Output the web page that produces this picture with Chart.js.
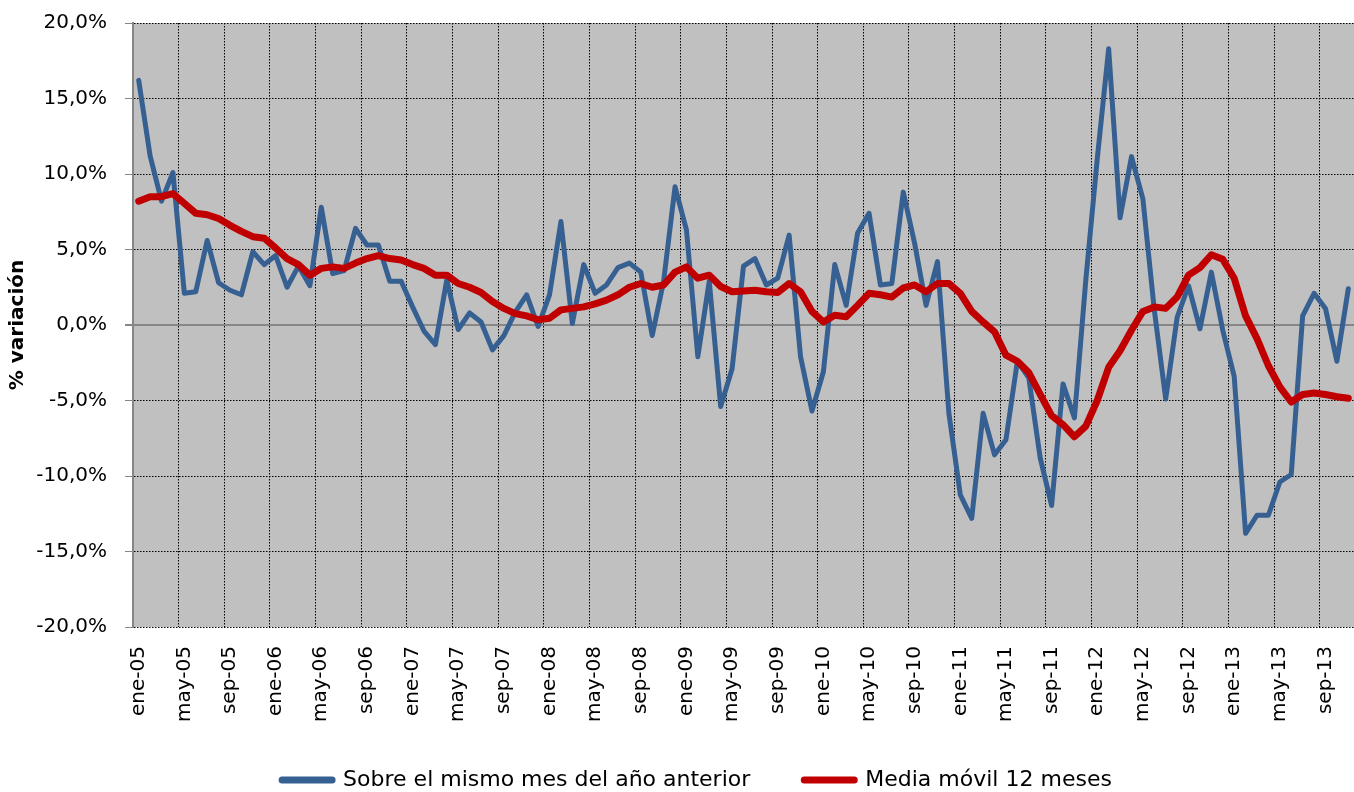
<!DOCTYPE html>
<html>
<head>
<meta charset="utf-8">
<script src="https://cdn.jsdelivr.net/npm/chart.js@4/dist/chart.umd.min.js"></script>
<style>
  html, body { margin: 0; padding: 0; background: #fff; }
  #wrap { width: 1354px; height: 792px; }
</style>
</head>
<body>
<div id="wrap"><canvas id="variacionChart"></canvas></div>
<script>
// months ene-05 .. nov-13
const monthNames = ['ene', 'feb', 'mar', 'abr', 'may', 'jun', 'jul', 'ago', 'sep', 'oct', 'nov', 'dic'];
const firstYear = 2005;
const monthCount = 107;

// % variación sobre el mismo mes del año anterior
const mismoMes = [
  16.2, 11.2, 8.2, 10.1, 2.1, 2.2, 5.6, 2.8, 2.3, 2.0, 4.85, 4.0,
  4.6, 2.5, 3.9, 2.6, 7.8, 3.4, 3.6, 6.4, 5.3, 5.3, 2.9, 2.9,
  1.2, -0.4, -1.3, 3.0, -0.3, 0.8, 0.2, -1.65, -0.7, 0.85, 2.0, -0.1,
  2.0, 6.85, 0.1, 4.0, 2.1, 2.65, 3.8, 4.1, 3.5, -0.7, 2.9, 9.15,
  6.3, -2.1, 2.9, -5.4, -2.9, 3.9, 4.4, 2.65, 3.1, 5.95, -2.1, -5.7,
  -3.1, 4.0, 1.3, 6.1, 7.4, 2.65, 2.75, 8.8, 5.4, 1.3, 4.2, -5.85,
  -11.25, -12.8, -5.85, -8.6, -7.6, -2.4, -3.5, -8.8, -11.95, -3.9, -6.15, 3.0,
  11.0, 18.3, 7.1, 11.15, 8.35, 1.0, -4.9, 0.5, 2.6, -0.25, 3.5, -0.35,
  -3.4, -13.8, -12.6, -12.6, -10.4, -9.9, 0.6, 2.1, 1.1, -2.4, 2.4
];

// media móvil 12 meses
const mediaMovil = [
  8.2, 8.5, 8.5, 8.7, 8.05, 7.4, 7.3, 7.05, 6.6, 6.2, 5.85, 5.75,
  5.1, 4.4, 4.0, 3.3, 3.75, 3.85, 3.75, 4.1, 4.4, 4.6, 4.4, 4.3,
  4.0, 3.75, 3.3, 3.3, 2.75, 2.5, 2.15, 1.55, 1.1, 0.75, 0.6, 0.35,
  0.45, 1.0, 1.1, 1.2, 1.4, 1.65, 2.0, 2.5, 2.75, 2.5, 2.65, 3.5,
  3.85, 3.1, 3.3, 2.55, 2.2, 2.25, 2.3, 2.2, 2.15, 2.75, 2.2, 0.9,
  0.2, 0.65, 0.55, 1.3, 2.1, 2.0, 1.85, 2.45, 2.65, 2.2, 2.75, 2.75,
  2.1, 0.9, 0.2, -0.45, -2.0, -2.4, -3.15, -4.6, -6.0, -6.6, -7.4, -6.7,
  -5.0, -2.8, -1.7, -0.35, 0.9, 1.2, 1.1, 1.85, 3.3, 3.8, 4.65, 4.35,
  3.1, 0.6, -0.9, -2.7, -4.1, -5.1, -4.6, -4.5, -4.6, -4.75, -4.85
];

const seriesNames = ['Sobre el mismo mes del año anterior', 'Media móvil 12 meses'];

const labels = [];
for (let i = 0; i < monthCount; i++) {
  const yy = String((firstYear + Math.floor(i / 12)) % 100).padStart(2, '0');
  labels.push(monthNames[i % 12] + '-' + yy);
}

// gray plot area like the excel original
const plotBackground = {
  id: 'plotBackground',
  beforeDraw(chart) {
    const a = chart.chartArea;
    const ctx = chart.ctx;
    ctx.save();
    ctx.fillStyle = '#c0c0c0';
    ctx.fillRect(a.left, a.top, a.right - a.left, a.bottom - a.top);
    ctx.restore();
  }
};

// legend sits a bit right of centre and close to the bottom in the original
const legendShift = {
  id: 'legendShift',
  afterLayout(chart) {
    chart.legend.left += 20;
    chart.legend.right += 20;
    chart.legend.top -= 22;
    chart.legend.bottom -= 22;
  }
};

Chart.defaults.font.family = "'DejaVu Sans', sans-serif";
Chart.defaults.color = '#000';

const ctx = document.getElementById('variacionChart');

new Chart(ctx, {
  type: 'line',
  data: {
    labels: labels,
    datasets: [{
      label: seriesNames[0],
      data: mismoMes,
      borderColor: '#376092',
      backgroundColor: '#376092',
      borderWidth: 5,
      borderJoinStyle: 'round',
      borderCapStyle: 'round',
      pointRadius: 0,
      tension: 0,
      order: 1
    }, {
      label: seriesNames[1],
      data: mediaMovil,
      borderColor: '#c00000',
      backgroundColor: '#c00000',
      borderWidth: 7,
      borderJoinStyle: 'round',
      borderCapStyle: 'round',
      pointRadius: 0,
      tension: 0,
      order: 0
    }]
  },
  options: {
    responsive: true,
    maintainAspectRatio: false,
    animation: false,
    layout: {
      padding: { top: 23, right: 0, left: 0, bottom: -31 }
    },
    scales: {
      x: {
        offset: true,
        grid: {
          offset: true,
          drawTicks: false,
          color: function(c) {
            return (c.index > 0 && c.index % 4 === 0) ? '#000' : 'rgba(0,0,0,0)';
          },
          lineWidth: 1
        },
        border: { display: false, dash: [1.5, 1.5] },
        ticks: {
          autoSkip: false,
          minRotation: 90,
          maxRotation: 90,
          padding: 19,
          font: { size: 20 },
          callback: function(value, index) {
            return index % 4 === 0 ? labels[index] : '';
          }
        },
        afterFit: function(scale) {
          scale.height = 110;
          scale.paddingLeft = 0;
          scale.paddingRight = 0;
        }
      },
      y: {
        min: -20,
        max: 20,
        ticks: {
          stepSize: 5,
          padding: 18,
          font: { size: 20 },
          callback: function(value) {
            return value.toFixed(1).replace('.', ',') + '%';
          }
        },
        grid: {
          color: function(c) {
            return c.tick && c.tick.value === 0 ? '#868686' : '#000';
          },
          lineWidth: function(c) {
            return c.tick && c.tick.value === 0 ? 2 : 1;
          },
          tickColor: '#868686',
          tickLength: 8,
          tickBorderDash: []
        },
        border: {
          display: true,
          color: '#868686',
          width: 2,
          dash: function(c) {
            return c.tick && c.tick.value === 0 ? [] : [1.5, 1.5];
          }
        },
        title: {
          display: true,
          text: '% variación',
          font: { size: 20, weight: 'bold' },
          padding: { top: 6, bottom: 0 }
        },
        afterFit: function(scale) {
          scale.width = 133;
          scale.paddingTop = 0;
          scale.paddingBottom = 0;
        }
      }
    },
    plugins: {
      legend: {
        position: 'bottom',
        labels: {
          usePointStyle: true,
          pointStyle: 'line',
          pointStyleWidth: 50,
          padding: 54,
          font: { size: 22 },
          color: '#000',
          sort: function(a, b) { return a.datasetIndex - b.datasetIndex; },
          generateLabels: function(chart) {
            const items = Chart.defaults.plugins.legend.labels.generateLabels(chart);
            items.forEach(function(it) { it.lineWidth = 7; it.lineCap = 'round'; });
            return items;
          }
        }
      },
      tooltip: { enabled: false }
    }
  },
  plugins: [plotBackground, legendShift]
});
</script>
</body>
</html>
